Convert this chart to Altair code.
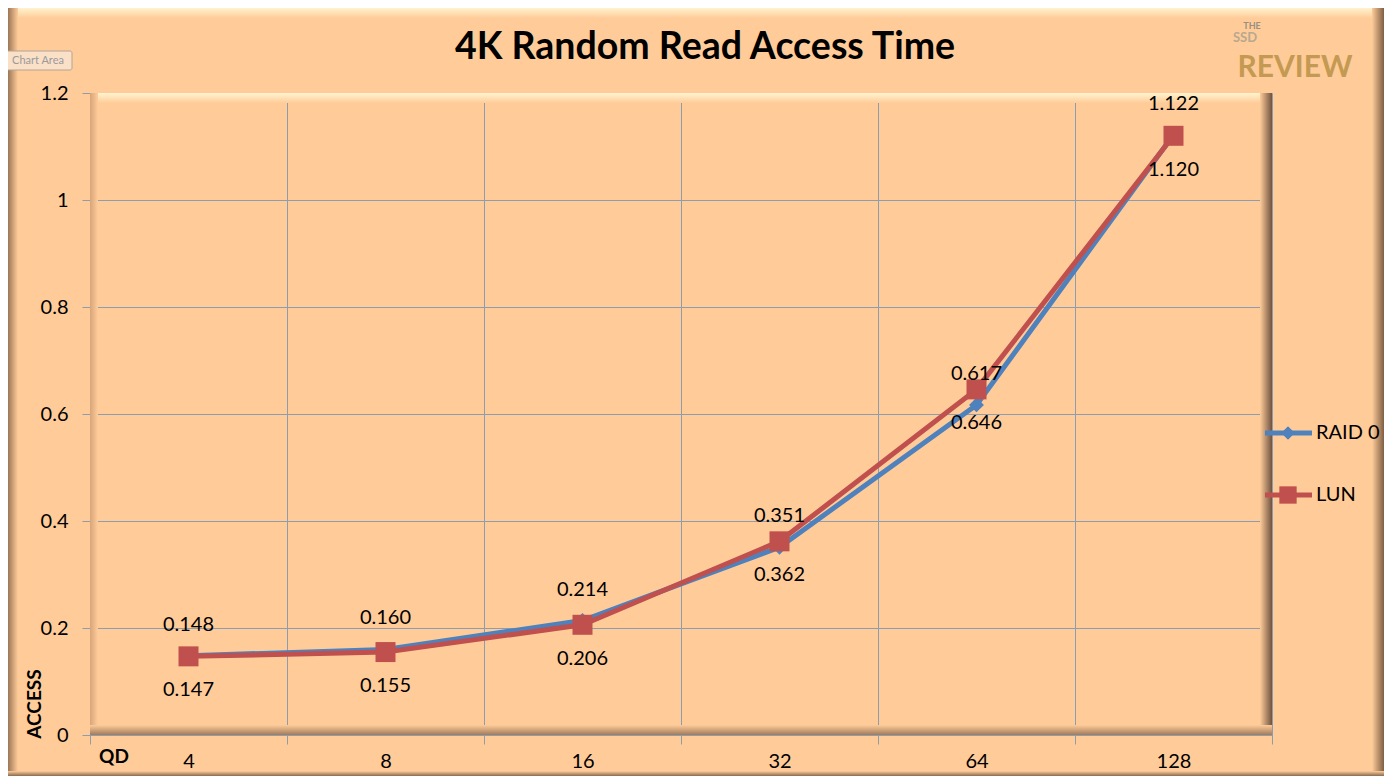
import altair as alt
import pandas as pd

# ---- data ----
qd_levels = ["4", "8", "16", "32", "64", "128"]
raid0_values = [0.148, 0.160, 0.214, 0.351, 0.617, 1.122]
lun_values = [0.147, 0.155, 0.206, 0.362, 0.646, 1.120]
raid0_labels = ["0.148", "0.160", "0.214", "0.351", "0.617", "1.122"]
lun_labels = ["0.147", "0.155", "0.206", "0.362", "0.646", "1.120"]
series_names = ["RAID 0", "LUN"]
y_ticks = [0, 0.2, 0.4, 0.6, 0.8, 1.0, 1.2]

rows = []
for q, v, l in zip(qd_levels, raid0_values, raid0_labels):
    rows.append({"qd": q, "value": v, "label": l, "series": series_names[0]})
for q, v, l in zip(qd_levels, lun_values, lun_labels):
    rows.append({"qd": q, "value": v, "label": l, "series": series_names[1]})
df = pd.DataFrame(rows)

BG = "#FFCC99"
BLUE = "#4F81BD"
RED = "#C0504D"
GRID = "#8C9DB0"
FONT = "Lato"
W, H = 1182, 642

x_enc = alt.X("qd:O", sort=qd_levels,
              scale=alt.Scale(paddingInner=0, paddingOuter=0),
              axis=alt.Axis(title=None, labelAngle=0, tickBand="extent", grid=True,
                            gridColor=GRID, gridWidth=1, tickColor=GRID, tickSize=9,
                            domainColor=GRID, labelFontSize=20, labelFont=FONT,
                            labelColor="black", labelPadding=7))
y_enc = alt.Y("value:Q", scale=alt.Scale(domain=[0, 1.2], nice=False),
              axis=alt.Axis(title=None, values=y_ticks, grid=True, gridColor=GRID,
                            gridWidth=1, tickColor=GRID, tickSize=8, domainColor=GRID,
                            labelExpr="format(datum.value, '~g')",
                            labelFontSize=20, labelFont=FONT, labelColor="black",
                            labelPadding=14))

one = alt.Data(values=[{}])


def grad(c1, c2, horizontal):
    if horizontal:
        return alt.Gradient(gradient="linear",
                            stops=[alt.GradientStop(color=c1, offset=0),
                                   alt.GradientStop(color=c2, offset=1)],
                            x1=0, x2=1, y1=0, y2=0)
    return alt.Gradient(gradient="linear",
                        stops=[alt.GradientStop(color=c1, offset=0),
                               alt.GradientStop(color=c2, offset=1)],
                        x1=0, x2=0, y1=0, y2=1)


def box(x1, x2, y1, y2, color):
    return alt.Chart(one).mark_rect(color=color).encode(
        x=alt.value(x1), x2=alt.value(x2), y=alt.value(y1), y2=alt.value(y2))


def txt(s, x, y, size, color="black", weight="normal", angle=0, font=FONT):
    return alt.Chart(one).mark_text(text=s, fontSize=size, font=font, color=color,
                                    fontWeight=weight, angle=angle,
                                    align="center", baseline="middle").encode(
        x=alt.value(x), y=alt.value(y))


# decorative frames (outer chart frame and plot-area bevel)
frames = [
    box(-82, 1294, -85, -75, grad("#FFF3CF", BG, False)),
    box(-82, -72, -85, 683, grad("#9C7658", BG, True)),
    box(1282, 1294, -85, 683, grad(BG, "#7E5E44", True)),
    box(-82, 1294, 678, 683, grad(BG, "#8A6A50", False)),
    box(0, W, 0, 10, grad("#FFF4D0", BG, False)),
    box(0, 8, 0, H, grad("#D8A47A", BG, True)),
    box(W - 12, W, 0, H, grad(BG, "#6E5240", True)),
    box(0, W, H - 10, H, grad(BG, "#A07A5A", False)),
]

base = alt.Chart(df).encode(x=x_enc, y=y_enc)

layers = []
for name, color, shape, size in [(series_names[0], BLUE, "diamond", 220),
                                 (series_names[1], RED, "square", 400)]:
    sub = base.transform_filter(alt.datum.series == name)
    layers.append(sub.mark_line(color=color, strokeWidth=5))
    layers.append(sub.mark_point(shape=shape, filled=True, opacity=1, color=color, size=size))
for name, dy in [(series_names[0], -31), (series_names[1], 34)]:
    sub = base.transform_filter(alt.datum.series == name)
    layers.append(sub.mark_text(fontSize=20, font=FONT, color="black", dy=dy,
                                baseline="middle").encode(text="label:N"))

# legend (manual)
legend = []
for name, color, shape, size, ly in [(series_names[0], BLUE, "diamond", 180, 340),
                                      (series_names[1], RED, "square", 300, 402)]:
    legend.append(alt.Chart(one).mark_rule(color=color, strokeWidth=5).encode(
        x=alt.value(1175), x2=alt.value(1222), y=alt.value(ly)))
    legend.append(alt.Chart(one).mark_point(shape=shape, filled=True, opacity=1,
                                            color=color, size=size).encode(
        x=alt.value(1198), y=alt.value(ly)))
    legend.append(alt.Chart(one).mark_text(text=name, fontSize=20, font=FONT,
                                           align="left", baseline="middle").encode(
        x=alt.value(1226), y=alt.value(ly)))

texts = [
    txt("4K Random Read Access Time", 615, -45, 37.5, weight="bold"),
    txt("QD", 24, 664, 19, weight="bold"),
    txt("ACCESS", -55, 611, 19, weight="bold", angle=270),
    txt("THE", 1162, -67, 9, color="#9A8F80", weight="bold"),
    txt("SSD", 1155, -55, 13, color="#B8A890", weight="bold"),
    txt("REVIEW", 1205, -25, 30, color="#C49A52", weight="bold"),
]

chart_area = [
    alt.Chart(one).mark_rect(color="#FBE0C8", stroke="#B4A494", strokeWidth=1,
                             cornerRadius=2).encode(
        x=alt.value(-87), x2=alt.value(-18), y=alt.value(-42), y2=alt.value(-23)),
    txt("Chart Area", -52, -32, 11, color="#9A9A9A"),
]

chart = alt.layer(*frames, *layers, *legend, *texts, *chart_area).properties(
    width=W, height=H,
    autosize=alt.AutoSizeParams(type="none"),
    padding={"left": 82, "top": 85, "right": 112, "bottom": 41},
    background=BG,
).configure_view(stroke=None)

chart.save("out.html", embed_options={"renderer": "svg", "actions": False})
